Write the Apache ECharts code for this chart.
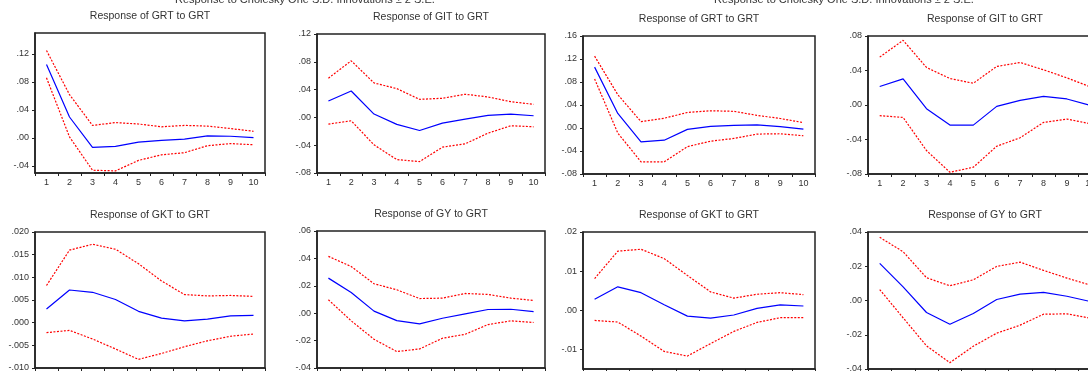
<!DOCTYPE html>
<html>
<head>
<meta charset="utf-8">
<script src="https://cdn.jsdelivr.net/npm/echarts@6/dist/echarts.min.js"></script>
<style>
html, body { margin: 0; padding: 0; overflow: hidden; background: #fff; }
#main { width: 1110px; height: 400px; }
</style>
</head>
<body>
<div id="main"></div>
<script>
// periods after the shock
var periods = ['1', '2', '3', '4', '5', '6', '7', '8', '9', '10'];

var figTitle = 'Response to Cholesky One S.D. Innovations \u00b1 2 S.E.';
var panelTitles = [
    'Response of GRT to GRT', 'Response of GIT to GRT', 'Response of GRT to GRT', 'Response of GIT to GRT',
    'Response of GKT to GRT', 'Response of GY to GRT', 'Response of GKT to GRT', 'Response of GY to GRT'
];

// panel 1
var p1Resp = [0.105, 0.030, -0.0135, -0.012, -0.006, -0.0035, -0.0015, 0.003, 0.0025, 0.0005];
var p1Hi = [0.125, 0.062, 0.018, 0.022, 0.020, 0.016, 0.018, 0.017, 0.0135, 0.0096];
var p1Lo = [0.086, 0.0015, -0.046, -0.047, -0.032, -0.024, -0.021, -0.011, -0.008, -0.0096];
// panel 2
var p2Resp = [0.0236, 0.038, 0.0048, -0.010, -0.0188, -0.0082, -0.0024, 0.0029, 0.0048, 0.0024];
var p2Hi = [0.0564, 0.0814, 0.0496, 0.0414, 0.026, 0.0275, 0.0333, 0.0294, 0.0226, 0.0188];
var p2Lo = [-0.0096, -0.0048, -0.0395, -0.0607, -0.0636, -0.0429, -0.038, -0.0227, -0.012, -0.0135];
// panel 3
var p3Resp = [0.1059, 0.0253, -0.0241, -0.0212, -0.0024, 0.0029, 0.0047, 0.0053, 0.0024, -0.0018];
var p3Hi = [0.125, 0.058, 0.011, 0.017, 0.027, 0.030, 0.029, 0.022, 0.0165, 0.0094];
var p3Lo = [0.0853, -0.0088, -0.0588, -0.0588, -0.0324, -0.0229, -0.0182, -0.0106, -0.010, -0.0135];
// panel 4
var p4Resp = [0.0214, 0.0303, -0.0043, -0.0233, -0.0233, -0.0016, 0.0054, 0.0101, 0.007, -0.0004];
var p4Hi = [0.0555, 0.075, 0.0435, 0.0307, 0.0252, 0.0447, 0.0493, 0.0408, 0.0315, 0.021];
var p4Lo = [-0.0124, -0.0144, -0.0528, -0.078, -0.0722, -0.0478, -0.038, -0.0202, -0.0163, -0.0217];
// panel 5
var p5Resp = [0.0030, 0.0072, 0.0067, 0.0051, 0.0025, 0.0010, 0.0004, 0.0008, 0.0015, 0.0016];
var p5Hi = [0.0082, 0.016, 0.0173, 0.0162, 0.013, 0.0092, 0.0062, 0.0059, 0.006, 0.0058];
var p5Lo = [-0.0022, -0.0017, -0.0036, -0.0058, -0.0081, -0.0068, -0.0053, -0.004, -0.003, -0.0025];
// panel 6
var p6Resp = [0.0256, 0.0151, 0.0015, -0.0054, -0.0078, -0.0037, -0.0005, 0.0027, 0.0029, 0.0012];
var p6Hi = [0.0415, 0.0341, 0.0215, 0.0171, 0.0107, 0.011, 0.0144, 0.0137, 0.011, 0.0093];
var p6Lo = [0.0098, -0.0056, -0.019, -0.028, -0.0261, -0.0183, -0.0154, -0.0083, -0.0056, -0.0068];
// panel 7
var p7Resp = [0.0028, 0.006, 0.0045, 0.0014, -0.0015, -0.002, -0.0012, 0.0005, 0.0014, 0.0011];
var p7Hi = [0.0081, 0.0151, 0.0156, 0.0132, 0.0089, 0.0047, 0.0031, 0.0041, 0.0045, 0.004];
var p7Lo = [-0.0026, -0.003, -0.0066, -0.0105, -0.0117, -0.0085, -0.0054, -0.0031, -0.0019, -0.0019];
// panel 8
var p8Resp = [0.0217, 0.008, -0.007, -0.0139, -0.0076, 0.0006, 0.0037, 0.0047, 0.0025, -0.0006];
var p8Hi = [0.0369, 0.0285, 0.0133, 0.0086, 0.0121, 0.0199, 0.0224, 0.0176, 0.0131, 0.009];
var p8Lo = [0.0064, -0.0101, -0.0265, -0.0363, -0.0267, -0.0191, -0.0144, -0.008, -0.0078, -0.0103];

// y axis tick labels
var p1Ticks = [-0.04, 0, 0.04, 0.08, 0.12];
var p2Ticks = [-0.08, -0.04, 0, 0.04, 0.08, 0.12];
var p3Ticks = [-0.08, -0.04, 0, 0.04, 0.08, 0.12, 0.16];
var p4Ticks = [-0.08, -0.04, 0, 0.04, 0.08];
var p5Ticks = [-0.010, -0.005, 0, 0.005, 0.010, 0.015, 0.020];
var p6Ticks = [-0.04, -0.02, 0, 0.02, 0.04, 0.06];
var p7Ticks = [-0.01, 0, 0.01, 0.02];
var p8Ticks = [-0.04, -0.02, 0, 0.02, 0.04];

var panels = [
    { resp: p1Resp, hi: p1Hi, lo: p1Lo, ticks: p1Ticks, min: -0.05, max: 0.15, dec: 2, left: 35, top: 33, width: 230, height: 140 },
    { resp: p2Resp, hi: p2Hi, lo: p2Lo, ticks: p2Ticks, min: -0.08, max: 0.12, dec: 2, left: 317, top: 34, width: 228, height: 139 },
    { resp: p3Resp, hi: p3Hi, lo: p3Lo, ticks: p3Ticks, min: -0.08, max: 0.16, dec: 2, left: 583, top: 36, width: 232, height: 138 },
    { resp: p4Resp, hi: p4Hi, lo: p4Lo, ticks: p4Ticks, min: -0.08, max: 0.08, dec: 2, left: 868, top: 36, width: 234, height: 138 },
    { resp: p5Resp, hi: p5Hi, lo: p5Lo, ticks: p5Ticks, min: -0.010, max: 0.020, dec: 3, left: 35, top: 232, width: 230, height: 136 },
    { resp: p6Resp, hi: p6Hi, lo: p6Lo, ticks: p6Ticks, min: -0.04, max: 0.06, dec: 2, left: 317, top: 231, width: 228, height: 137 },
    { resp: p7Resp, hi: p7Hi, lo: p7Lo, ticks: p7Ticks, min: -0.015, max: 0.02, dec: 2, left: 583, top: 232, width: 232, height: 137 },
    { resp: p8Resp, hi: p8Hi, lo: p8Lo, ticks: p8Ticks, min: -0.04, max: 0.04, dec: 2, left: 868, top: 232, width: 234, height: 137 }
];

function fmt(v, dec) {
    return v.toFixed(dec).replace('0.', '.');
}

var grid = [], xAxis = [], yAxis = [], series = [], graphic = [];

graphic.push({ type: 'text', left: 175, top: -6, style: { text: figTitle, font: '11px "Liberation Sans", Arial', fill: '#333' } });
graphic.push({ type: 'text', left: 714, top: -6, style: { text: figTitle, font: '11px "Liberation Sans", Arial', fill: '#333' } });

panels.forEach(function (p, i) {
    grid.push({
        left: p.left, top: p.top, width: p.width, height: p.height,
        show: true, borderColor: '#222', borderWidth: 1.5, backgroundColor: '#fff'
    });
    graphic.push({
        type: 'text',
        x: p.left + p.width / 2,
        y: p.top - 17,
        style: {
            text: panelTitles[i], font: '10.5px "Liberation Sans", Arial', fill: '#333',
            align: 'center', verticalAlign: 'middle'
        }
    });
    xAxis.push({
        type: 'category', gridIndex: i, data: periods, boundaryGap: true,
        axisLine: { onZero: false, lineStyle: { color: '#222', width: 1.5 } },
        axisTick: { show: true, length: 3, lineStyle: { color: '#222' } },
        axisLabel: { fontSize: 9, color: '#333', margin: 5, fontFamily: 'Liberation Sans' },
        splitLine: { show: false }
    });
    yAxis.push({
        type: 'value', gridIndex: i, min: p.min, max: p.max,
        axisLine: { show: true, onZero: false, lineStyle: { color: '#222', width: 1.5 } },
        axisTick: { show: true, length: 3, customValues: p.ticks, lineStyle: { color: '#222' } },
        axisLabel: {
            fontSize: 9, color: '#333', margin: 6, fontFamily: 'Liberation Sans',
            customValues: p.ticks,
            formatter: function (v) { return fmt(v, p.dec); }
        },
        splitLine: { show: false }
    });
    series.push({
        type: 'line', xAxisIndex: i, yAxisIndex: i, data: p.hi, symbol: 'none',
        lineStyle: { color: '#ff0000', width: 1.2, type: [2, 1.5] }
    });
    series.push({
        type: 'line', xAxisIndex: i, yAxisIndex: i, data: p.lo, symbol: 'none',
        lineStyle: { color: '#ff0000', width: 1.2, type: [2, 1.5] }
    });
    series.push({
        type: 'line', xAxisIndex: i, yAxisIndex: i, data: p.resp, symbol: 'none',
        lineStyle: { color: '#0000ff', width: 1.2 }
    });
});

var myChart = echarts.init(document.getElementById('main'));
myChart.setOption({
    animation: false,
    backgroundColor: '#fff',
    grid: grid,
    xAxis: xAxis,
    yAxis: yAxis,
    series: series,
    graphic: graphic
});
</script>
</body>
</html>
